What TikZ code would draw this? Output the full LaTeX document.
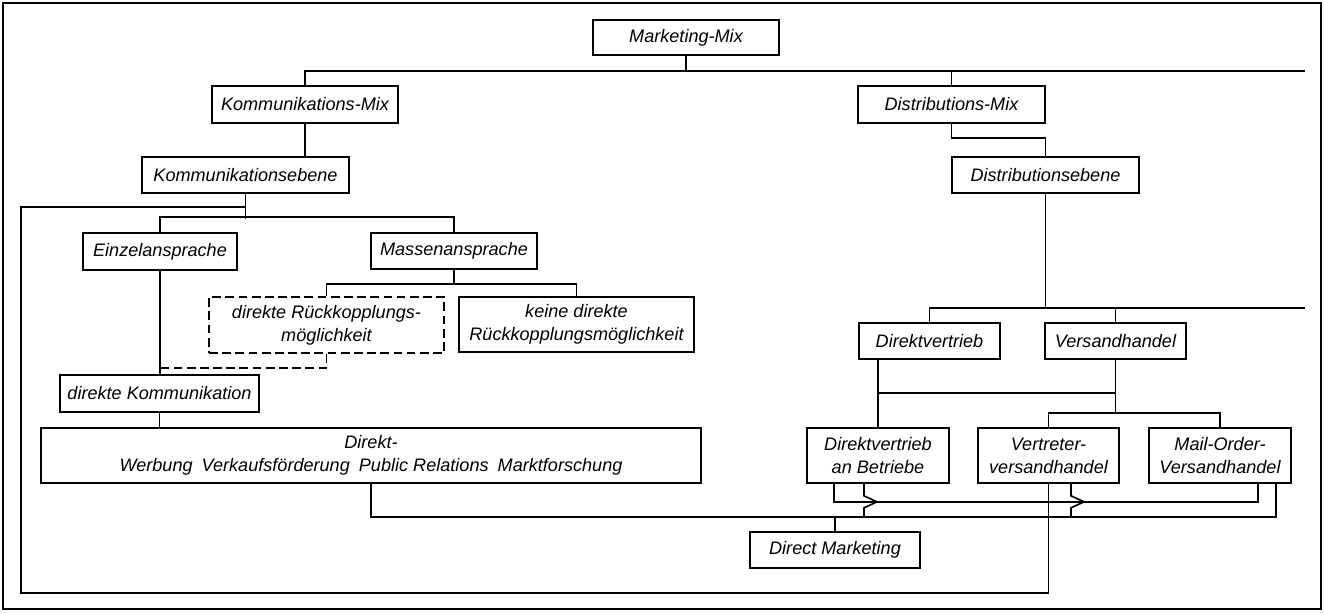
\documentclass[tikz,border=0pt]{standalone}
\usepackage{fontspec}
\setmainfont{Liberation Sans}
\usetikzlibrary{calc}

\begin{document}
\begin{tikzpicture}[x=0.02cm, y=-0.02cm, line width=0.95pt,
    boxnode/.style={draw, inner sep=0pt, minimum height=0.72cm, align=center,
      font=\itshape\fontsize{10.3}{13}\selectfont},
    boxtwo/.style={boxnode, minimum height=1.1cm}]
    \useasboundingbox (0,0) rectangle (1324,614);
    \draw[line width=1.4pt] (3,3) rectangle (1321,609);

    % Mix-Ebene
    \node[boxnode, minimum width=3.72cm, minimum height=0.7cm] (mmix) at (686,37.5) {Marketing-Mix};
    \node[boxnode, minimum width=3.72cm, minimum height=0.74cm] (kmix) at (305,104.5) {Kommunikations-Mix};
    \node[boxnode, minimum width=3.74cm, minimum height=0.74cm] (dmix) at (951.5,104.5) {Distributions-Mix};
    \node[boxnode, minimum width=4.14cm] (keb) at (245.5,175) {Kommunikationsebene};
    \node[boxnode, minimum width=3.74cm] (deb) at (1045.5,175) {Distributionsebene};

    % Kommunikation
    \node[boxnode, minimum width=3.08cm, minimum height=0.74cm] (einzel) at (160,251.5) {Einzelansprache};
    \node[boxnode, minimum width=3.32cm] (masse) at (454,251) {Massenansprache};
    \node[boxtwo, minimum width=4.7cm, minimum height=1.12cm, dash pattern=on 5pt off 2.5pt] (rueck) at (326.5,325) {direkte R\"uckkopplungs-\\m\"oglichkeit};
    \node[boxtwo, minimum width=4.7cm] (keine) at (576.5,324.5) {keine direkte\\R\"uckkopplungsm\"oglichkeit};
    \node[boxnode, minimum width=3.98cm, minimum height=0.74cm] (dkom) at (159.5,393.5) {direkte Kommunikation};
    \node[boxtwo, minimum width=13.2cm] (direkt) at (371,455.5) {Direkt-\\Werbung\enspace Verkaufsf\"orderung\enspace Public Relations\enspace Marktforschung};

    % Distribution
    \node[boxnode, minimum width=2.82cm] (dvt) at (929.5,341) {Direktvertrieb};
    \node[boxnode, minimum width=2.82cm] (vh) at (1115.5,341) {Versandhandel};
    \node[boxtwo, minimum width=2.84cm] (dvab) at (878,455.5) {Direktvertrieb\\an Betriebe};
    \node[boxtwo, minimum width=2.82cm] (vvh) at (1048.5,455.5) {Vertreter-\\versandhandel};
    \node[boxtwo, minimum width=2.84cm] (movh) at (1220,455.5) {Mail-Order-\\Versandhandel};
    \node[boxnode, minimum width=3.4cm] (dm) at (835,550) {Direct Marketing};

    \coordinate (mixend) at (1305,71);
    \coordinate (debend) at (1305,308);
    \coordinate (loopsw) at (21,593);

    % Verbindungen oben
    \draw (mmix.south) -- (mmix.south |- mixend);
    \draw (kmix.north) |- (mixend);
    \draw (dmix.north) -- (dmix.north |- mixend);
    \draw (kmix.south) -- (kmix.south |- keb.north);
    \draw (dmix.south) -- ++(0,14) -| (deb.north);

    % Kommunikationsebene
    \draw (keb.south) -- ++(0,25);
    \path (keb.south) ++(0,13) coordinate (kel);
    \draw (einzel.north) -- ++(0,-15) -| (masse.north);
    \draw (masse.south) -- ++(0,14) coordinate (m1);
    \draw (rueck.north) |- (m1) -| (keine.north);
    \draw[dash pattern=on 5pt off 2.5pt] (rueck.south) -- ++(0,14) coordinate (r1) -- (einzel.south |- r1);
    \draw (einzel.south) -- (einzel.south |- dkom.north);
    \draw (dkom.south) -- (dkom.south |- direkt.north);

    % Distributionsebene
    \draw (deb.south) -- (deb.south |- debend);
    \draw (dvt.north) |- (debend);
    \draw (vh.north) -- (vh.north |- debend);
    \draw (dvab.north) -- (dvab.north |- dvt.south);
    \draw (vh.south) -- ++(0,33) coordinate (v0) -- (dvab.north |- v0);
    \draw (v0) -- ++(0,20) coordinate (v1);
    \draw (vvh.north) |- (v1) -| (movh.north);

    % Direct Marketing
    \coordinate (lb) at ($(direkt.south)+(0,33)$);
    \draw ($(dvab.south)+(-44,0)$) |- ($(movh.south)+(38,18)$) -- ($(movh.south)+(38,0)$);
    \draw (direkt.south) |- ($(movh.south)+(56,33)$) -- ($(movh.south)+(56,0)$);
    \foreach \n/\dx in {dvab/-14, vvh/22.5}
        \draw ($(\n.south)+(\dx,0)$) -- ++(0,12) -- ++(13,6) -- ++(-13,6) -- ++(0,9);
    \draw (dm.north) -- (dm.north |- lb);
    \draw (vvh.south) |- (loopsw) |- (kel);
\end{tikzpicture}
\end{document}
